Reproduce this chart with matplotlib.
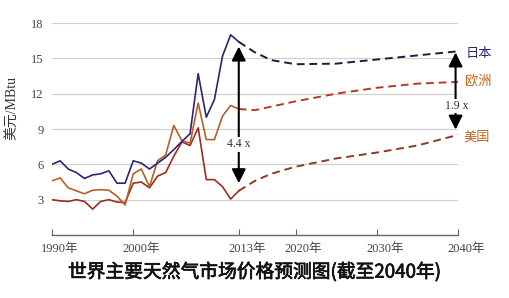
import matplotlib
matplotlib.use("Agg")
import matplotlib.pyplot as plt
import matplotlib.transforms as mtransforms
import matplotlib.patheffects as pe

plt.rcParams["font.family"] = ["Liberation Serif", "Noto Sans CJK SC"]

# historical prices (USD/MBtu)
years_hist = list(range(1990, 2014))
japan_hist = [6.0, 6.3, 5.6, 5.3, 4.8, 5.1, 5.2, 5.45, 4.4, 4.4, 6.3, 6.1,
              5.6, 6.1, 6.6, 7.25, 7.95, 8.6, 13.7, 10.0, 11.5, 15.2, 17.0, 16.4]
europe_hist = [4.6, 4.85, 4.0, 3.75, 3.5, 3.8, 3.85, 3.8, 3.3, 2.55, 5.2, 5.6,
               4.1, 6.3, 6.8, 9.3, 8.0, 7.8, 11.2, 8.1, 8.1, 10.1, 11.0, 10.7]
us_hist = [3.0, 2.9, 2.85, 3.0, 2.85, 2.2, 2.85, 3.0, 2.8, 2.75, 4.4, 4.5,
           4.0, 5.0, 5.3, 6.7, 7.9, 7.6, 9.1, 4.7, 4.7, 4.1, 3.05, 3.75]

# projections
years_proj = [2013, 2015, 2017, 2020, 2025, 2030, 2035, 2040]
japan_proj = [16.4, 15.5, 14.85, 14.5, 14.55, 14.9, 15.25, 15.6]
europe_proj = [10.7, 10.6, 10.9, 11.35, 12.0, 12.5, 12.85, 13.0]
us_proj = [3.75, 4.6, 5.2, 5.8, 6.5, 7.0, 7.6, 8.5]

xticks = [1990, 2000, 2013, 2020, 2030, 2040]
xtick_labels = ["1990年", "2000年", "2013年", "2020年", "2030年", "2040年"]
yticks = [3, 6, 9, 12, 15, 18]

c_japan = "#2f2470"
c_europe = "#b5602a"
c_europe_d = "#b83a22"
c_us = "#9e2e1c"
c_us_d = "#8c3a25"

fig = plt.figure(figsize=(5.09, 2.98), dpi=100)
ax = fig.add_axes([0.1022, 0.2114, 0.7976, 0.7114])

ax.plot(years_hist, us_hist, color=c_us, lw=1.2)
ax.plot(years_hist, europe_hist, color=c_europe, lw=1.2)
ax.plot(years_hist, japan_hist, color=c_japan, lw=1.2)

dash = dict(lw=1.4, dashes=(4, 2.5))
ax.plot(years_proj, japan_proj, color="#1c1c40", **dash)
ax.plot(years_proj, europe_proj, color=c_europe_d, **dash)
ax.plot(years_proj, us_proj, color=c_us_d, **dash)

ax.set_xlim(1990, 2040)
ax.set_ylim(0, 18)
ax.set_yticks(yticks)
ax.set_yticklabels([str(v) for v in yticks])
ax.set_xticks(xticks)
ax.set_xticklabels(xtick_labels)
ax.grid(axis="y", color="#cfcfcf", lw=0.8)
ax.set_axisbelow(True)

for s in ["top", "right", "left"]:
    ax.spines[s].set_visible(False)
ax.spines["bottom"].set_color("#666666")
ax.spines["bottom"].set_linewidth(1.0)
ax.tick_params(axis="y", length=0, pad=6, labelsize=9, labelcolor="#444444")
ax.tick_params(axis="x", direction="in", length=4, color="#666666",
               labelsize=9, labelcolor="#444444", pad=6)
offset = mtransforms.ScaledTranslation(0.08, 0, fig.dpi_scale_trans)
for lab in ax.get_xticklabels():
    lab.set_transform(lab.get_transform() + offset)

ax.set_ylabel("美元/MBtu", fontsize=10, color="#333333")
ax.yaxis.set_label_coords(-0.08, 0.6)

# ratio arrows
arrow = dict(arrowstyle="<|-|>,head_length=0.7,head_width=0.35", color="black",
             lw=1.5, shrinkA=0, shrinkB=0, mutation_scale=12)
ax.annotate("", xy=(2013, 16.0), xytext=(2013, 4.4), arrowprops=arrow)
ax.text(2013, 7.7, "4.4 x", ha="center", va="center", fontsize=8.5, color="#333333",
        bbox=dict(facecolor="white", edgecolor="none", pad=1))
ax.annotate("", xy=(2039.7, 15.5), xytext=(2039.7, 8.95), arrowprops=arrow,
            annotation_clip=False)
ax.text(2039.9, 10.95, "1.9 x", ha="center", va="center", fontsize=8.5, color="#333333",
        bbox=dict(facecolor="white", edgecolor="none", pad=1), clip_on=False)

ax.text(2040.9, 15.45, "日本", color=c_japan, fontsize=9.5, va="center",
        family="Noto Sans CJK SC", clip_on=False)
ax.text(2040.9, 13.07, "欧洲", color="#c0661f", fontsize=9.5, va="center",
        family="Noto Sans CJK SC", clip_on=False)
ax.text(2040.7, 8.3, "美国", color="#c0661f", fontsize=9.5, va="center",
        family="Noto Sans CJK SC", clip_on=False)

fig.text(0.5, 0.087, "世界主要天然气市场价格预测图(截至2040年)", ha="center",
         va="center", fontsize=13.5, color="#111111",
         family=["Noto Sans CJK SC"],
         path_effects=[pe.withStroke(linewidth=0.5, foreground="#111111")])

fig.savefig("out.png", dpi=100)
